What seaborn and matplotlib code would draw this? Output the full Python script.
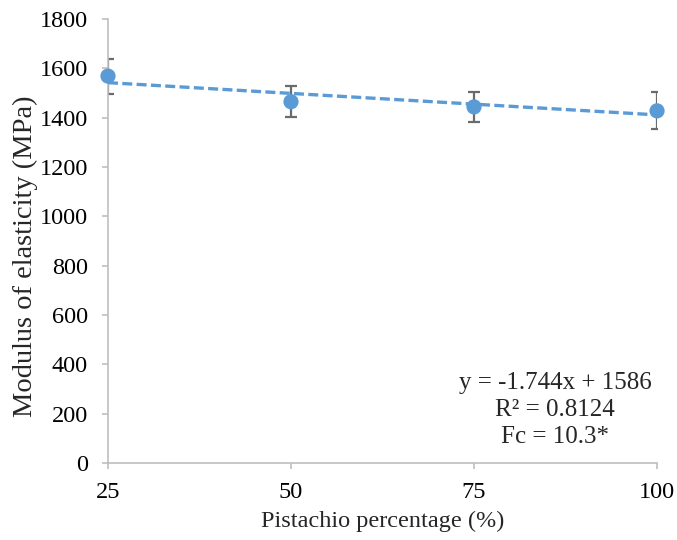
import matplotlib
matplotlib.use("Agg")
import matplotlib.pyplot as plt
import seaborn as sns
import numpy as np
import pandas as pd

# Data
pistachio = [25, 50, 75, 100]
modulus = [1569, 1465, 1444, 1428]
errors = [71, 63, 62, 75]
slope = -1.744
intercept = 1586
eq_text = ["y = -1.744x + 1586", "R² = 0.8124", "Fc = 10.3*"]
y_ticks = [0, 200, 400, 600, 800, 1000, 1200, 1400, 1600, 1800]

sns.set_theme(style="white")
plt.rcParams['font.family'] = ['Liberation Serif', 'DejaVu Serif']

fig = plt.figure(figsize=(6.77, 5.4), dpi=100)
ax = fig.add_axes([0.1595, 0.1426, 0.811, 0.822])

blue = "#5B9BD5"
df = pd.DataFrame({"x": pistachio, "y": modulus})

ax.errorbar(pistachio, modulus, yerr=errors, fmt="none", ecolor="#6b6b6b",
            elinewidth=1.6, capsize=4, capthick=1.6, zorder=2)

xs = np.array([pistachio[0], pistachio[-1]])
trend = pd.DataFrame({"x": xs, "y": slope * xs + intercept})
sns.lineplot(data=trend, x="x", y="y", ax=ax, color=blue, linewidth=2.4,
             linestyle=(0, (3, 1.3)), zorder=3)

sns.scatterplot(data=df, x="x", y="y", ax=ax, color=blue, s=120,
                edgecolor="none", zorder=4, clip_on=False)

ax.set_xlim(25, 100)
ax.set_ylim(0, 1800)
ax.set_xticks(pistachio)
ax.set_yticks(y_ticks)
ax.tick_params(axis="both", labelsize=17.5, colors="#bfbfbf", labelcolor="black",
               length=4.5, width=1.2, direction="out", bottom=True, left=True)
ax.tick_params(axis="x", pad=9)
ax.tick_params(axis="y", pad=10)
for s in ["top", "right"]:
    ax.spines[s].set_visible(False)
for s in ["left", "bottom"]:
    ax.spines[s].set_color("#bfbfbf")
    ax.spines[s].set_linewidth(1.2)

ax.set_xlabel("Pistachio percentage (%)", fontsize=17.5, labelpad=6)
ax.set_ylabel("Modulus of elasticity (MPa)", fontsize=20.5)
ax.yaxis.set_label_coords(-0.128, 0.466)

for i, t in enumerate(eq_text):
    ax.text(0.814, 0.180 - i * 0.061, t, transform=ax.transAxes,
            ha="center", va="center", fontsize=18)

fig.savefig("out.png", dpi=100)
